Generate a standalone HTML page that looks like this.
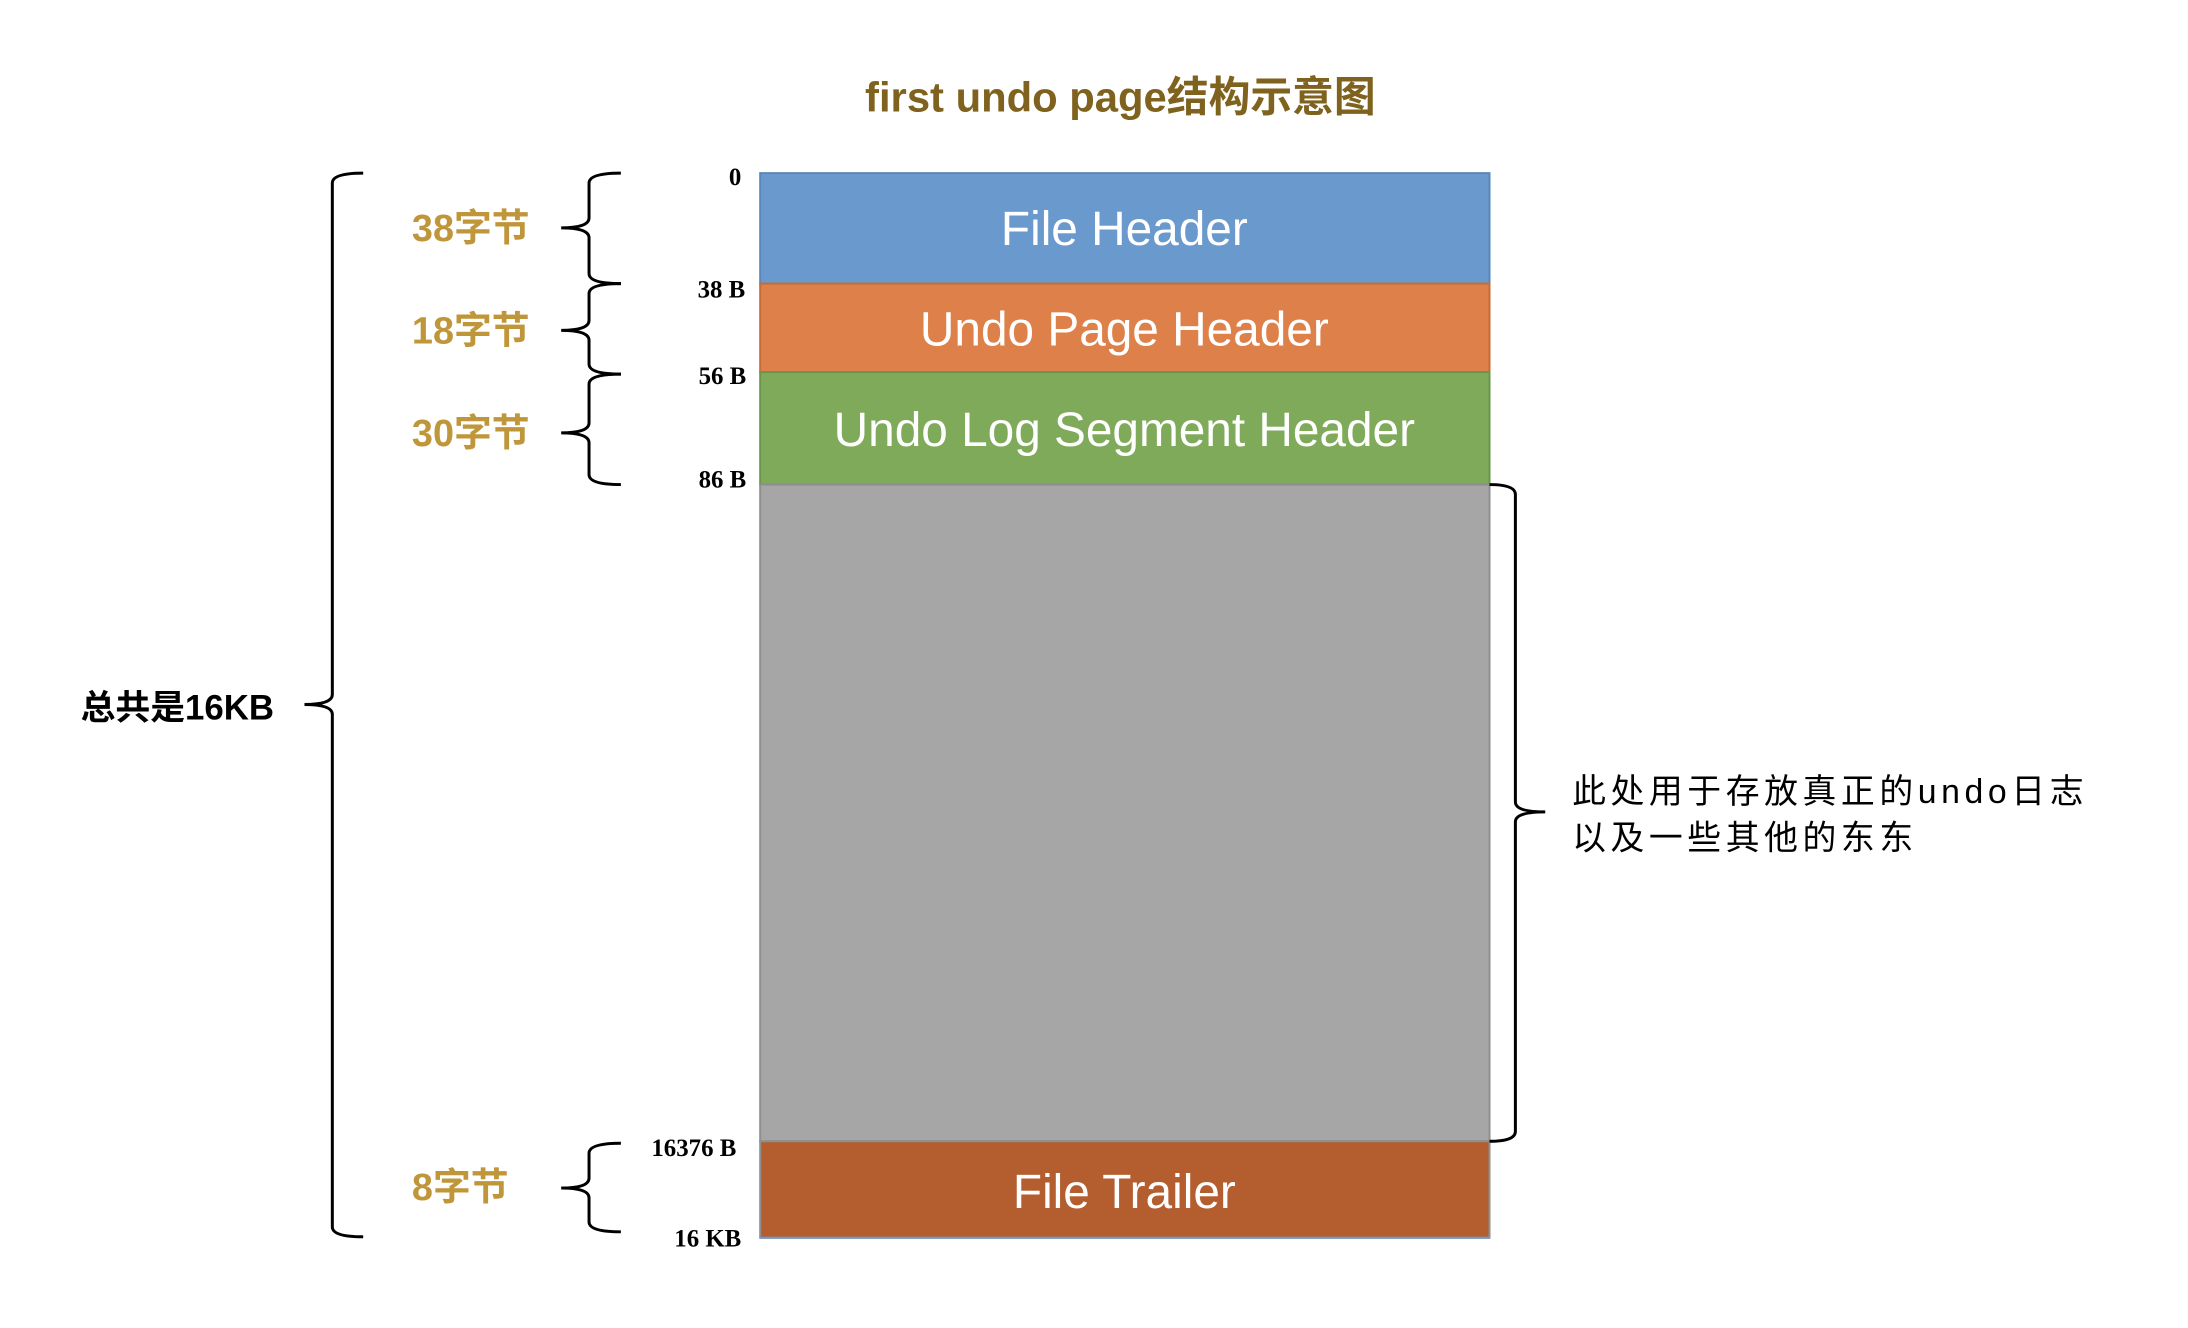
<!DOCTYPE html>
<html><head><meta charset="utf-8"><style>
html,body{margin:0;padding:0;background:#fff;}
svg{display:block;}
</style></head><body>
<svg width="2188" height="1328" viewBox="0 0 2188 1328" xmlns="http://www.w3.org/2000/svg">
<rect width="2188" height="1328" fill="#fff"/>
<g transform="scale(0.995)">
<text x="1126" y="112" text-anchor="middle" font-family="Liberation Sans, Noto Sans CJK SC, sans-serif" font-size="42" font-weight="bold" fill="#7f621e">first undo page结构示意图</text>

<rect x="764" y="174" width="733" height="111" fill="#6a9acd" stroke="#5b87b8" stroke-width="2"/>
<rect x="764" y="285" width="733" height="89" fill="#de8049" stroke="#c56c38" stroke-width="2"/>
<rect x="764" y="374" width="733" height="113" fill="#7eaa5a" stroke="#6a954a" stroke-width="2"/>
<rect x="764" y="487" width="733" height="660" fill="#a6a6a6" stroke="#8f8f8f" stroke-width="2"/>
<rect x="764" y="1147" width="733" height="97" fill="#b45e2f" stroke="#8f8f8f" stroke-width="2"/>
<line x1="764" y1="1244" x2="1497" y2="1244" stroke="#6a9acd" stroke-width="2"/>

<g font-family="Liberation Sans, sans-serif" font-size="48" fill="#fff" text-anchor="middle">
<text x="1130" y="246">File Header</text>
<text x="1130" y="347">Undo Page Header</text>
<text x="1130" y="448">Undo Log Segment Header</text>
<text x="1130" y="1214">File Trailer</text>
</g>

<g font-family="Liberation Serif, serif" font-size="25" font-weight="bold" fill="#000" text-anchor="end">
<text x="745" y="186">0</text>
<text x="749" y="299">38 B</text>
<text x="750" y="386">56 B</text>
<text x="750" y="490">86 B</text>
<text x="740" y="1162">16376 B</text>
<text x="745" y="1253">16 KB</text>
</g>

<g fill="none" stroke="#000" stroke-width="3">
<path d="M365 174 Q334 174 334 184 L334 698 Q334 708 306 708 Q334 708 334 718 L334 1233 Q334 1243 365 1243"/>
<path d="M624 174 Q592 174 592 184 L592 219 Q592 229 564 229 Q592 229 592 239 L592 275 Q592 285 624 285"/>
<path d="M624 285 Q592 285 592 295 L592 322 Q592 332 564 332 Q592 332 592 342 L592 366 Q592 376 624 376"/>
<path d="M624 376 Q592 376 592 386 L592 425 Q592 435 564 435 Q592 435 592 445 L592 477 Q592 487 624 487"/>
<path d="M624 1149 Q592 1149 592 1159 L592 1184 Q592 1194 564 1194 Q592 1194 592 1204 L592 1228 Q592 1238 624 1238"/>
<path d="M1497 487 Q1523 487 1523 497 L1523 806 Q1523 816 1553 816 Q1523 816 1523 826 L1523 1137 Q1523 1147 1497 1147"/>
</g>

<g font-family="Liberation Sans, Noto Sans CJK SC, sans-serif" font-size="38" fill="#c0963a" font-weight="bold">
<text x="414" y="242">38字节</text>
<text x="414" y="345">18字节</text>
<text x="414" y="448">30字节</text>
<text x="414" y="1206">8字节</text>
</g>

<text x="81" y="723" font-family="Liberation Sans, Noto Sans CJK SC, sans-serif" font-size="35" font-weight="bold" fill="#000">总共是16KB</text>
<g font-family="Liberation Sans, Noto Sans CJK SC, sans-serif" font-size="34" fill="#000" letter-spacing="4.6">
<text x="1580" y="807">此处用于存放真正的undo日志</text>
<text x="1580" y="854">以及一些其他的东东</text>
</g>
</g>
</svg>
</body></html>
